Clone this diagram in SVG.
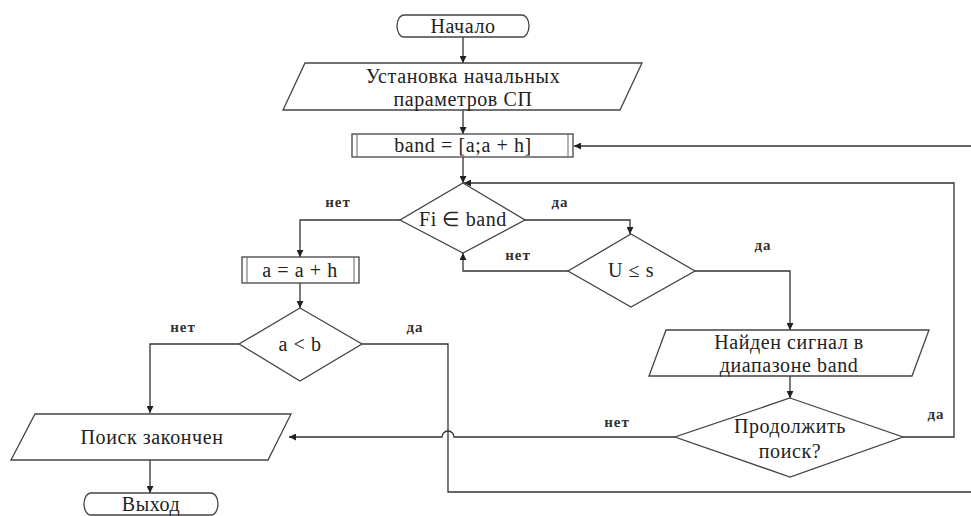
<svg xmlns="http://www.w3.org/2000/svg" width="971" height="516" viewBox="0 0 971 516">
<defs>
<marker id="arr" viewBox="0 0 10 10" refX="10" refY="5" markerWidth="7" markerHeight="7" orient="auto" markerUnits="userSpaceOnUse">
<path d="M0,0 L10,5 L0,10 Z" fill="#222"/>
</marker>
<style>
.shape{fill:#fff;stroke:#444;stroke-width:1.3}
.inner{fill:none;stroke:#666;stroke-width:1}
.conn{fill:none;stroke:#333;stroke-width:1.3}
.t{font-family:"Liberation Serif","Times New Roman",serif;font-size:20px;letter-spacing:0.6px;fill:#222;text-anchor:middle;dominant-baseline:central}
.lbl{font-family:"Liberation Serif","Times New Roman",serif;font-size:15px;letter-spacing:1px;font-weight:bold;fill:#333;text-anchor:middle;dominant-baseline:central}
</style>
</defs>
<rect width="971" height="516" fill="#fff"/>

<g id="connectors">
<path class="conn" d="M463,37 V63" marker-end="url(#arr)"/>
<path class="conn" d="M463,110 V134" marker-end="url(#arr)"/>
<path class="conn" d="M971,146 H574" marker-end="url(#arr)"/>
<path class="conn" d="M463,157 V183" marker-end="url(#arr)"/>
<path class="conn" d="M903,437 H954 V183 H464" marker-end="url(#arr)"/>
<path class="conn" d="M400,220 H300 V257" marker-end="url(#arr)"/>
<path class="conn" d="M525,220 H630 V234" marker-end="url(#arr)"/>
<path class="conn" d="M568,271 H463 V253" marker-end="url(#arr)"/>
<path class="conn" d="M695,271 H790 V330" marker-end="url(#arr)"/>
<path class="conn" d="M300,283 V308" marker-end="url(#arr)"/>
<path class="conn" d="M790,376 V398" marker-end="url(#arr)"/>
<path class="conn" d="M675,437 H454 A6,6 0 0 0 442,437 H289" marker-end="url(#arr)"/>
<path class="conn" d="M239,344 H150 V413" marker-end="url(#arr)"/>
<path class="conn" d="M362,344 H448 V492 H971"/>
<path class="conn" d="M150,460 V493" marker-end="url(#arr)"/>
<text class="lbl" x="338" y="202">нет</text>
<text class="lbl" x="560" y="202">да</text>
<text class="lbl" x="518" y="255">нет</text>
<text class="lbl" x="763" y="245">да</text>
<text class="lbl" x="183" y="327">нет</text>
<text class="lbl" x="415" y="327">да</text>
<text class="lbl" x="617" y="422">нет</text>
<text class="lbl" x="936" y="414">да</text>
</g>

<g id="start">
<path class="shape" d="M404,15 H522 A7,11 0 0 1 522,37 H404 A7,11 0 0 1 404,15 Z"/>
<text class="t" x="463" y="26" letter-spacing="1.5">Начало</text>
</g>

<g id="init">
<path class="shape" d="M305,63 H642 L620,110 H283 Z"/>
<text class="t" x="463" y="76">Установка начальных</text>
<text class="t" x="463" y="99">параметров СП</text>
</g>

<g id="band">
<rect class="shape" x="352" y="134" width="221" height="23"/>
<line class="inner" x1="357" y1="134" x2="357" y2="157"/>
<line class="inner" x1="568" y1="134" x2="568" y2="157"/>
<text class="t" x="463" y="145">band = [a;a + h]</text>
</g>

<g id="fi-in-band">
<path class="shape" d="M463,183 L525,220 L463,253 L400,220 Z"/>
<text class="t" x="463" y="219">Fi ∈ band</text>
</g>

<g id="u-le-s">
<path class="shape" d="M631,234 L695,271 L631,307 L568,271 Z"/>
<text class="t" x="631" y="270">U ≤ s</text>
</g>

<g id="a-plus-h">
<rect class="shape" x="242" y="257" width="117" height="26"/>
<line class="inner" x1="247" y1="257" x2="247" y2="283"/>
<line class="inner" x1="354" y1="257" x2="354" y2="283"/>
<text class="t" x="300" y="270">a = a + h</text>
</g>

<g id="a-lt-b">
<path class="shape" d="M300,308 L362,344 L300,381 L239,344 Z"/>
<text class="t" x="300" y="344">a &lt; b</text>
</g>

<g id="found">
<path class="shape" d="M666,330 H929 L912,376 H649 Z"/>
<text class="t" x="789" y="342">Найден сигнал в</text>
<text class="t" x="789" y="365">диапазоне band</text>
</g>

<g id="continue">
<path class="shape" d="M790,398 L903,437 L790,477 L675,437 Z"/>
<text class="t" x="790" y="426">Продолжить</text>
<text class="t" x="790" y="451">поиск?</text>
</g>

<g id="finished">
<path class="shape" d="M35,414 H291 L268,460 H11 Z"/>
<text class="t" x="152" y="437">Поиск закончен</text>
</g>

<g id="exit">
<path class="shape" d="M91,493 H211 A7,11 0 0 1 211,515 H91 A7,11 0 0 1 91,493 Z"/>
<text class="t" x="151" y="504" letter-spacing="1.5">Выход</text>
</g>
</svg>
